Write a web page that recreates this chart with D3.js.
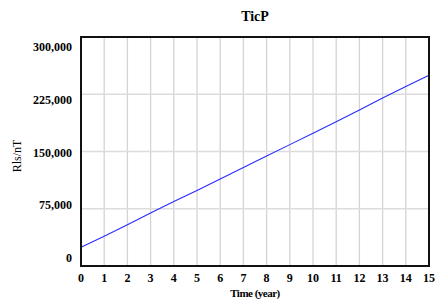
<!DOCTYPE html>
<html>
<head>
<meta charset="utf-8">
<script src="https://cdn.jsdelivr.net/npm/d3@7"></script>
<style>
  body { margin: 0; background: #fff; }
  text { font-family: "Liberation Serif", "DejaVu Serif", serif; fill: #000; }
</style>
</head>
<body>
<div id="chart"></div>
<script>
// values
const years = [0, 1, 2, 3, 4, 5, 6, 7, 8, 9, 10, 11, 12, 13, 14, 15];
const ticP = [24500, 39000, 54000, 69500, 84500, 99000, 114000, 129000, 144000, 159000, 174000, 189000, 204500, 220000, 235000, 250000];
const yTicks = [0, 75000, 150000, 225000, 300000];
const xTicks = years;

const width = 435, height = 302;
const plot = { left: 81, right: 429, top: 37, bottom: 266 };

const svg = d3.select("#chart")
    .append("svg")
    .attr("width", width)
    .attr("height", height);

const x = d3.scaleLinear().domain([0, 15]).range([plot.left, plot.right]);
const y = d3.scaleLinear().domain([0, 300000]).range([plot.bottom, plot.top]);
// tick labels sit a little inside the frame, like the original
const yLab = d3.scaleLinear().domain([0, 300000]).range([258, 47]);

// grid
svg.append("g").selectAll("line")
    .data(xTicks.slice(1, -1))
    .enter().append("line")
    .attr("x1", d => x(d)).attr("x2", d => x(d))
    .attr("y1", plot.top).attr("y2", plot.bottom)
    .style("stroke", "#d4d4d4")
    .style("stroke-width", 1.3);

svg.append("g").selectAll("line")
    .data(yTicks.slice(1, -1))
    .enter().append("line")
    .attr("x1", plot.left).attr("x2", plot.right)
    .attr("y1", d => y(d)).attr("y2", d => y(d))
    .style("stroke", "#dcdcdc")
    .style("stroke-width", 1.5);

// data line
const line = d3.line()
    .x((d, i) => x(years[i]))
    .y(d => y(d));

svg.append("path")
    .datum(ticP)
    .attr("d", line)
    .style("fill", "none")
    .style("stroke", "#2a2aff")
    .style("stroke-width", 1.1);

// frame
svg.append("rect")
    .attr("x", plot.left).attr("y", plot.top)
    .attr("width", plot.right - plot.left)
    .attr("height", plot.bottom - plot.top)
    .style("fill", "none")
    .style("stroke", "#111")
    .style("stroke-width", 2);

// y tick labels
svg.append("g").selectAll("text")
    .data(yTicks)
    .enter().append("text")
    .attr("x", 72)
    .attr("y", d => yLab(d))
    .attr("dy", "0.35em")
    .attr("text-anchor", "end")
    .style("font-size", "12px")
    .style("font-weight", "bold")
    .text(d => d3.format(",")(d));

// x tick labels
svg.append("g").selectAll("text")
    .data(xTicks)
    .enter().append("text")
    .attr("x", d => x(d))
    .attr("y", 282)
    .attr("text-anchor", "middle")
    .style("font-size", "12px")
    .style("font-weight", "bold")
    .text(d => d);

// titles
svg.append("text")
    .attr("x", 255).attr("y", 21)
    .attr("text-anchor", "middle")
    .style("font-size", "14px")
    .style("font-weight", "bold")
    .text("TicP");

svg.append("text")
    .attr("x", 255).attr("y", 297)
    .attr("text-anchor", "middle")
    .style("font-size", "11px")
    .style("font-weight", "bold")
    .style("letter-spacing", "-0.5px")
    .text("Time (year)");

svg.append("text")
    .attr("transform", "translate(21,156) rotate(-90)")
    .attr("text-anchor", "middle")
    .style("font-size", "12px")
    .text("Rls/nT");
</script>
</body>
</html>
